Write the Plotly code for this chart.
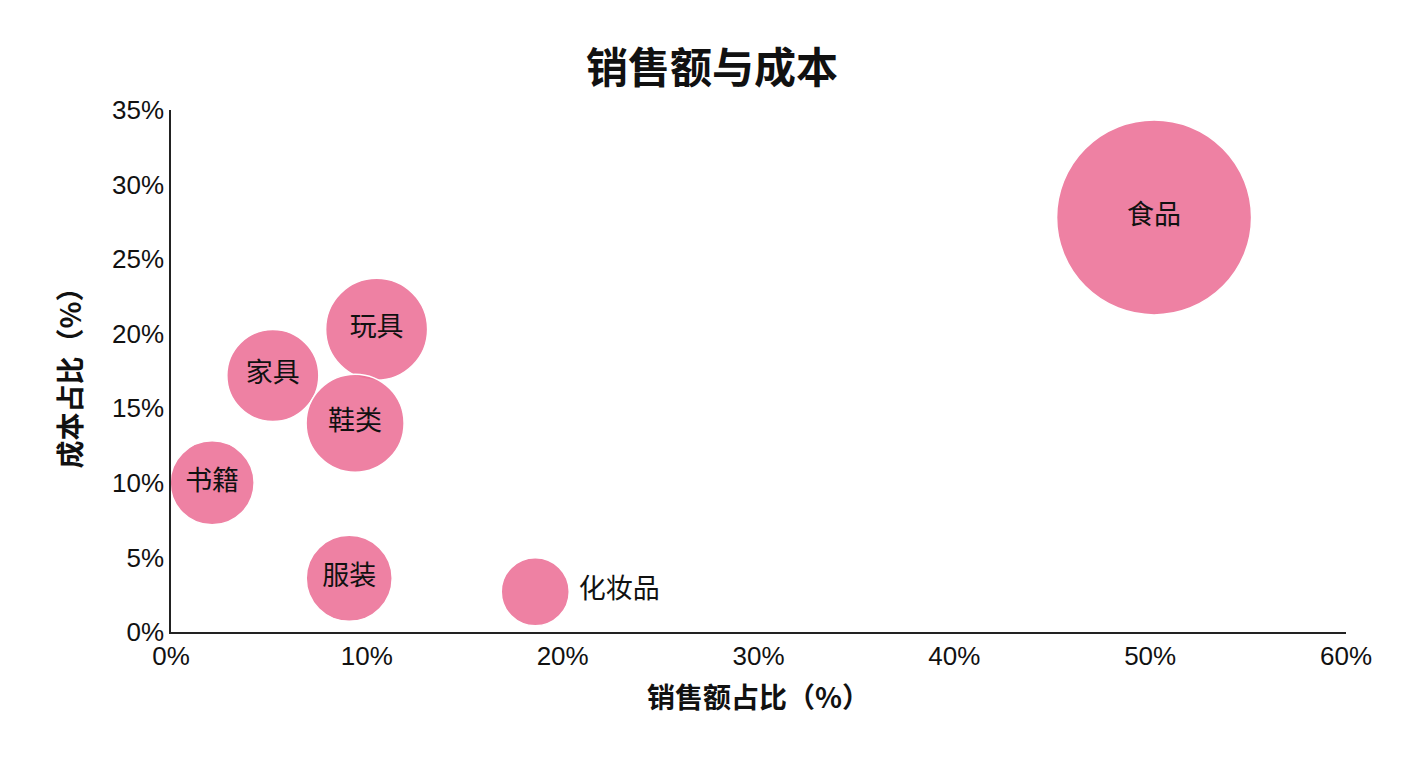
import plotly.graph_objects as go

names = ["食品", "玩具", "家具", "鞋类", "书籍", "服装", "化妆品"]
sales = [50.2, 10.5, 5.2, 9.4, 2.1, 9.1, 18.6]
cost = [27.8, 20.3, 17.2, 14.0, 10.0, 3.6, 2.7]
size = [195, 102, 92, 98, 84, 86, 68]
pos = ["middle center"] * 6 + ["middle right"]

fig = go.Figure(go.Scatter(
    x=sales, y=cost, mode="markers+text", text=names, textposition=pos,
    marker=dict(size=size, sizemode="diameter", color="rgba(236,112,150,0.88)",
                line=dict(color="white", width=1.5), opacity=1),
    textfont=dict(size=27, color="#111", family="Noto Sans CJK SC"),
    cliponaxis=False,
))
fig.update_layout(
    width=1408, height=768, paper_bgcolor="white", plot_bgcolor="white",
    margin=dict(l=163, r=70, t=102, b=144), showlegend=False,
    title=dict(text="<b>销售额与成本</b>", x=0.5, xanchor="center", y=0.94,
               font=dict(size=42, family="Noto Sans CJK SC", color="#111")),
    font=dict(family="Liberation Sans, Arial", size=26, color="#111"),
)
fig.update_xaxes(range=[0, 60], dtick=10, ticksuffix="%", showgrid=False, zeroline=False,
                 showline=True, linecolor="#222", linewidth=1.5, ticks="",
                 title=dict(text="<b>销售额占比（%）</b>", font=dict(size=28, family="Noto Sans CJK SC"), standoff=18))
fig.update_yaxes(range=[0, 35], dtick=5, ticksuffix="%", showgrid=False, zeroline=False,
                 showline=True, linecolor="#222", linewidth=1.5, ticks="",
                 title=dict(text="<b>成本占比（%）</b>", font=dict(size=28, family="Noto Sans CJK SC"), standoff=22))
fig.write_html("out.html")
